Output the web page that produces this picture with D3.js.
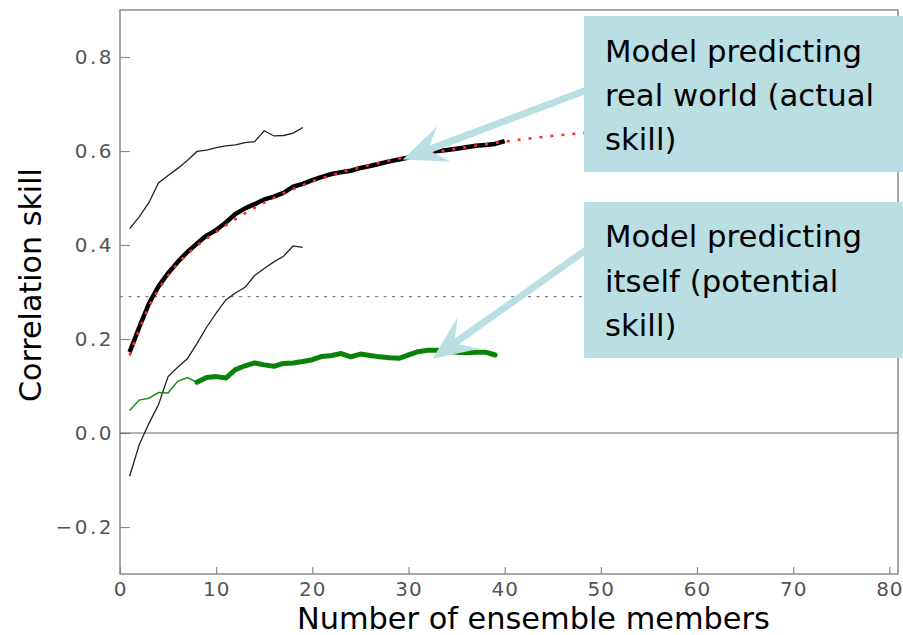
<!DOCTYPE html>
<html>
<head>
<meta charset="utf-8">
<script src="https://cdn.jsdelivr.net/npm/d3@7"></script>
<style>
  body { margin: 0; background: #fff; }
  text { font-family: "DejaVu Sans", sans-serif; }
</style>
</head>
<body>
<svg id="chart" width="903" height="635"></svg>
<script>
// ensemble sizes
const members40 = d3.range(1, 41);
const members19 = d3.range(1, 20);
const membersThin = d3.range(1, 9);
const membersThick = d3.range(8, 40);

// actual skill (thick black)
const actualSkill = [0.172, 0.225, 0.275, 0.312, 0.340, 0.364, 0.385, 0.403, 0.420, 0.432,
  0.448, 0.466, 0.478, 0.487, 0.497, 0.503, 0.511, 0.524, 0.530, 0.538,
  0.545, 0.551, 0.555, 0.558, 0.564, 0.568, 0.573, 0.578, 0.582, 0.586,
  0.592, 0.597, 0.600, 0.602, 0.605, 0.608, 0.611, 0.613, 0.615, 0.621];
// red dotted fit
const fitX = [1, 2, 3, 4, 5, 6, 8, 10, 12, 15, 20, 25, 30, 35, 40, 44, 48, 52];
const fitY = [0.165, 0.22, 0.268, 0.305, 0.335, 0.36, 0.398, 0.428, 0.455, 0.49, 0.535, 0.565, 0.588, 0.605, 0.62, 0.63, 0.638, 0.645];
// upper / lower thin black
const upperBound = [0.435, 0.46, 0.49, 0.532, 0.548, 0.563, 0.58, 0.599, 0.602, 0.607,
  0.611, 0.613, 0.618, 0.62, 0.643, 0.632, 0.633, 0.638, 0.650];
const lowerBound = [-0.092, -0.025, 0.02, 0.06, 0.12, 0.14, 0.158, 0.19, 0.225, 0.255,
  0.283, 0.298, 0.31, 0.335, 0.35, 0.364, 0.376, 0.398, 0.395];
// potential skill (green)
const potentialThin = [0.048, 0.07, 0.074, 0.086, 0.085, 0.11, 0.118, 0.108];
const potentialThick = [0.108, 0.118, 0.12, 0.117, 0.135, 0.143, 0.149, 0.145, 0.142, 0.148,
  0.149, 0.152, 0.156, 0.163, 0.165, 0.169, 0.162, 0.168, 0.165, 0.162,
  0.160, 0.159, 0.166, 0.173, 0.176, 0.176, 0.174, 0.172, 0.171, 0.172,
  0.172, 0.166];
const threshold = 0.29;

const xTicks = [0, 10, 20, 30, 40, 50, 60, 70, 80];
const yTicks = [-0.2, 0, 0.2, 0.4, 0.6, 0.8];

const boxText1 = ['Model predicting', 'real world (actual', 'skill)'];
const boxText2 = ['Model predicting', 'itself (potential', 'skill)'];

const svg = d3.select('#chart');
const x = d3.scaleLinear().domain([0, 80.9]).range([120, 898]);
const y = d3.scaleLinear().domain([-0.3, 0.9]).range([574, 10]);
const line = d3.line().x(d => x(d[0])).y(d => y(d[1]));
const zip = (xs, ys) => xs.map((v, i) => [v, ys[i]]);

// frame
svg.append('rect')
  .attr('x', x(0)).attr('y', y(0.9))
  .attr('width', x(80.9) - x(0)).attr('height', y(-0.3) - y(0.9))
  .attr('fill', 'none').attr('stroke', '#8a8a8a').attr('stroke-width', 1.5);

// axes
const yAxis = svg.append('g').attr('transform', `translate(${x(0)},0)`)
  .call(d3.axisLeft(y).tickValues(yTicks).tickSize(-10).tickPadding(6).tickFormat(d3.format('.1f')));
const xAxis = svg.append('g').attr('transform', `translate(0,${y(-0.3)})`)
  .call(d3.axisBottom(x).tickValues(xTicks).tickSize(-7).tickPadding(8));
[xAxis, yAxis].forEach(a => {
  a.select('.domain').remove();
  a.selectAll('line').attr('stroke', '#8a8a8a').attr('stroke-width', 1.2);
  a.selectAll('text').attr('fill', '#555').attr('font-size', 20)
    .attr('font-family', '"DejaVu Sans", sans-serif').style('letter-spacing', '2.5px');
});
xAxis.selectAll('text').style('letter-spacing', '1px');

// zero line and threshold
svg.append('line').attr('x1', x(0)).attr('x2', x(80.9)).attr('y1', y(0)).attr('y2', y(0))
  .attr('stroke', '#666').attr('stroke-width', 1);
svg.append('line').attr('x1', x(0)).attr('x2', x(80.9)).attr('y1', y(threshold)).attr('y2', y(threshold))
  .attr('stroke', '#666').attr('stroke-width', 1).attr('stroke-dasharray', '3,5.5');

// thin black bounds
[upperBound, lowerBound].forEach(s => {
  svg.append('path').datum(zip(members19, s)).attr('d', line)
    .attr('fill', 'none').attr('stroke', '#222').attr('stroke-width', 1.3);
});

// green
svg.append('path').datum(zip(membersThin, potentialThin)).attr('d', line)
  .attr('fill', 'none').attr('stroke', '#1b8c1b').attr('stroke-width', 1.5);
svg.append('path').datum(zip(membersThick, potentialThick)).attr('d', line)
  .attr('fill', 'none').attr('stroke', '#0a820a').attr('stroke-width', 5)
  .attr('stroke-linejoin', 'round').attr('stroke-linecap', 'round');

// actual skill thick black + red dotted fit
svg.append('path').datum(zip(members40, actualSkill)).attr('d', line)
  .attr('fill', 'none').attr('stroke', '#000').attr('stroke-width', 4.5)
  .attr('stroke-linejoin', 'round');
svg.append('path').datum(zip(fitX, fitY)).attr('d', line.curve(d3.curveMonotoneX))
  .attr('fill', 'none').attr('stroke', '#ff2b2b').attr('stroke-width', 2.6)
  .attr('stroke-dasharray', '3,8');
line.curve(d3.curveLinear);

// arrows
const boxFill = '#badfe3';
function arrow(x0, y0, tx, ty) {
  const dx = tx - x0, dy = ty - y0, len = Math.hypot(dx, dy);
  const ux = dx / len, uy = dy / len, nx = -uy, ny = ux;
  const hw = 3.5, headL = 44, notch = 30, headW = 19;
  const p = (a, b) => [tx - ux * a + nx * b, ty - uy * a + ny * b];
  const pts = [
    [x0 + nx * hw, y0 + ny * hw], p(notch, hw), p(headL, headW), [tx, ty],
    p(headL, -headW), p(notch, -hw), [x0 - nx * hw, y0 - ny * hw]
  ];
  svg.append('polygon').attr('points', pts.map(q => q.join(',')).join(' ')).attr('fill', boxFill);
}
arrow(600, 85, x(29.4), y(0.582));
arrow(600, 240, x(32.5), y(0.158));

// boxes
function box(top, h, lines, baselines) {
  svg.append('rect').attr('x', 584).attr('y', top).attr('width', 330).attr('height', h).attr('fill', boxFill);
  const t = svg.append('g');
  lines.forEach((s, i) => {
    t.append('text').attr('x', 605).attr('y', baselines[i]).text(s)
      .attr('font-family', '"Open Sans", sans-serif').attr('font-size', 30).attr('fill', '#000');
  });
  const w = t.select('text').node().getComputedTextLength();
  t.selectAll('text').attr('font-size', 30 * 257 / w);
}
box(16, 156, boxText1, [62, 106, 150]);
box(202, 156, boxText2, [247, 292, 336]);

// axis titles
function fit(sel, target) {
  const w = sel.node().getComputedTextLength();
  sel.attr('font-size', parseFloat(sel.attr('font-size')) * target / w);
}
const xt = svg.append('text').attr('x', 297).attr('y', 629).text('Number of ensemble members')
  .attr('font-family', '"Open Sans", sans-serif').attr('font-size', 30).attr('fill', '#000');
fit(xt, 473);
const yt = svg.append('text').attr('transform', 'translate(41,285) rotate(-90)')
  .attr('text-anchor', 'middle').text('Correlation skill')
  .attr('font-family', '"Open Sans", sans-serif').attr('font-size', 30).attr('fill', '#000');
fit(yt, 234);
</script>
</body>
</html>
